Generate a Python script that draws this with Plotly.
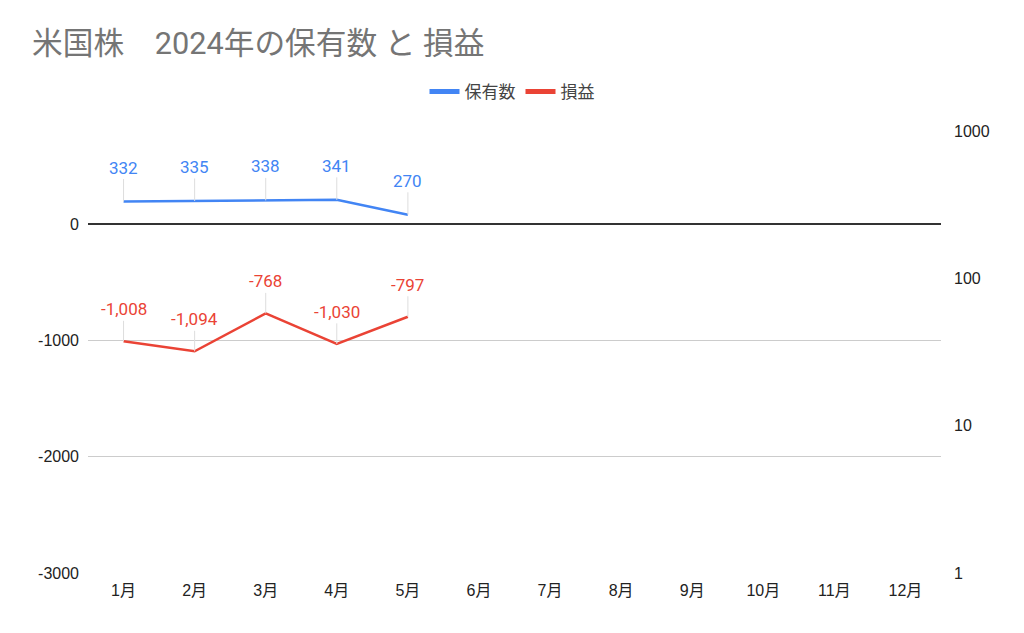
import numpy as np
import plotly.graph_objects as go

months = ["1月", "2月", "3月", "4月", "5月", "6月", "7月", "8月", "9月", "10月", "11月", "12月"]
holdings = [332, 335, 338, 341, 270, None, None, None, None, None, None, None]
pnl = [-1008, -1094, -768, -1030, -797, None, None, None, None, None, None, None]
left_ticks = [-3000, -2000, -1000, 0]
right_ticks = [1, 10, 100, 1000]

BLUE = "#4285F4"
RED = "#EA4335"
FONT = "Roboto, 'Noto Sans CJK JP', Arial, sans-serif"
TICKFONT = "Arial, 'Liberation Sans', 'Noto Sans CJK JP', sans-serif"

W, H = 1016, 625  # page has an 8px body margin

fig = go.Figure()
fig.add_trace(go.Scatter(x=months, y=holdings, name="保有数", mode="lines",
                         line=dict(color=BLUE, width=2.5), yaxis="y2", showlegend=False))
fig.add_trace(go.Scatter(x=months, y=pnl, name="損益", mode="lines",
                         line=dict(color=RED, width=2.5), yaxis="y", showlegend=False))
# legend entries with a thicker swatch
fig.add_trace(go.Scatter(x=[None], y=[None], name="保有数", mode="lines",
                         line=dict(color=BLUE, width=5), yaxis="y2"))
fig.add_trace(go.Scatter(x=[None], y=[None], name="損益", mode="lines",
                         line=dict(color=RED, width=5), yaxis="y"))

annotations = []
for m, v in zip(months, holdings):
    if v is None:
        continue
    annotations.append(dict(x=m, y=np.log10(v), xref="x", yref="y2", text=f"{v:,}",
                            showarrow=True, arrowhead=0, arrowwidth=1, arrowcolor="#dddddd",
                            ax=0, ay=-34, font=dict(color=BLUE, size=17, family=FONT)))
for m, v in zip(months, pnl):
    if v is None:
        continue
    annotations.append(dict(x=m, y=v, xref="x", yref="y", text=f"{v:,}",
                            showarrow=True, arrowhead=0, arrowwidth=1, arrowcolor="#dddddd",
                            ax=0, ay=-32, font=dict(color=RED, size=17, family=FONT)))

fig.update_layout(
    width=W, height=H,
    margin=dict(l=80, r=83, t=123, b=60),
    paper_bgcolor="white", plot_bgcolor="white",
    font=dict(family=TICKFONT, color="#222222", size=16),
    title=dict(text="米国株　2024年の保有数 と 損益", x=24 / W, xanchor="left",
               y=1 - 35 / H, yanchor="middle",
               font=dict(family=FONT, size=30.7, color="#757575")),
    legend=dict(orientation="h", x=504 / W, xanchor="center", xref="container",
                y=1 - 84 / H, yanchor="middle", yref="container",
                font=dict(family=FONT, size=17, color="#444444"), itemwidth=30),
    xaxis=dict(range=[-0.5, 11.5], showgrid=False, showline=False, ticks="",
               tickfont=dict(size=16, color="#222222"), ticklabelstandoff=6),
    yaxis=dict(range=[-3000, 800], tickvals=left_ticks, ticktext=[str(t) for t in left_ticks],
               showgrid=True, gridcolor="#cccccc",
               gridwidth=1, zeroline=True, zerolinecolor="#333333", zerolinewidth=1.5,
               ticks="", tickfont=dict(size=16, color="#222222"), ticklabelstandoff=8),
    yaxis2=dict(type="log", range=[0, 3], tickvals=right_ticks, ticktext=[str(t) for t in right_ticks],
                overlaying="y", side="right", showgrid=False, zeroline=False, ticks="",
                tickfont=dict(size=16, color="#222222"), ticklabelstandoff=12),
    annotations=annotations,
)

fig.write_html("out.html")
